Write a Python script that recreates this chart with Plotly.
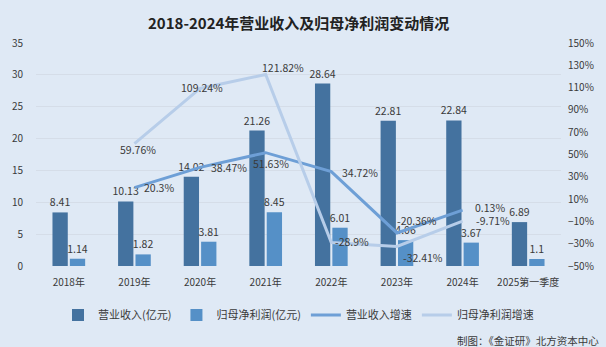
import plotly.graph_objects as go

# Annual figures
categories = ["2018年", "2019年", "2020年", "2021年", "2022年", "2023年", "2024年", "2025第一季度"]
revenue = [8.41, 10.13, 14.02, 21.26, 28.64, 22.81, 22.84, 6.89]
net_profit = [1.14, 1.82, 3.81, 8.45, 6.01, 4.06, 3.67, 1.1]
revenue_growth = [None, 20.3, 38.47, 51.63, 34.72, -20.36, 0.13, None]
profit_growth = [None, 59.76, 109.24, 121.82, -28.9, -32.41, -9.71, None]

BG = "#dfe9f5"
TXT = "#3a3a3a"
FONT = "Noto Sans CJK SC"

# label placement per point: (xanchor, xshift, yshift)
rev_label_pos = [None, ("left", 8, 0), ("left", 9, 0), ("center", 5, -11),
                 ("left", 9, -1), ("left", -2, 12), ("left", 10, 3), None]
profit_label_pos = [None, ("center", 4, -6), ("center", 2, 1), ("left", -6, 7),
                    ("left", 2, 1), ("left", 4, -11), ("left", 11, 1), None]

fig = go.Figure()

fig.add_trace(go.Bar(
    x=categories, y=revenue, name="营业收入(亿元)",
    marker=dict(color="#44729f", line=dict(width=0)),
    text=[f"{v:g}" for v in revenue], textposition="outside", constraintext="none",
    textfont=dict(size=10.5, color=TXT), cliponaxis=False,
))
fig.add_trace(go.Bar(
    x=categories, y=net_profit, name="归母净利润(亿元)",
    marker=dict(color="#5590c7", line=dict(width=0)),
    text=[f"{v:g}" for v in net_profit], textposition="outside", constraintext="none",
    textfont=dict(size=10.5, color=TXT), cliponaxis=False,
))
fig.add_trace(go.Scatter(
    x=categories, y=revenue_growth, name="营业收入增速", yaxis="y2",
    mode="lines", line=dict(color="#6e9fd6", width=3),
))
fig.add_trace(go.Scatter(
    x=categories, y=profit_growth, name="归母净利润增速", yaxis="y2",
    mode="lines", line=dict(color="#b7cde9", width=3),
))

annotations = [
    dict(text="<b>2018-2024年营业收入及归母净利润变动情况</b>", xref="paper", yref="paper",
         x=0.5, y=1.0, yshift=21, xanchor="center", yanchor="middle", showarrow=False,
         font=dict(size=15, color="#222222", family=FONT)),
    dict(text="制图：《金证研》北方资本中心", xref="paper", yref="paper",
         x=1.0, xshift=40, y=0, yshift=-74, xanchor="right", yanchor="middle",
         showarrow=False, font=dict(size=10.5, color=TXT, family=FONT)),
]

for values, positions in ((revenue_growth, rev_label_pos), (profit_growth, profit_label_pos)):
    for cat, v, pos in zip(categories, values, positions):
        if v is None:
            continue
        anchor, dx, dy = pos
        annotations.append(dict(
            text=f"{v:g}%", x=cat, y=v, xref="x", yref="y2", showarrow=False,
            xanchor=anchor, yanchor="middle", xshift=dx, yshift=dy,
            font=dict(size=10.5, color=TXT, family=FONT),
        ))

fig.update_layout(
    width=606, height=347,
    margin=dict(l=23, r=42, t=43, b=81),
    paper_bgcolor=BG, plot_bgcolor=BG,
    font=dict(family=FONT, size=10, color=TXT),
    barmode="group", bargap=0.47, bargroupgap=0.12,
    uniformtext=dict(mode=False),
    showlegend=True,
    legend=dict(orientation="h", x=0.5, xanchor="center", y=-0.22, yanchor="middle",
                font=dict(size=11, color=TXT), bgcolor="rgba(0,0,0,0)",
                itemwidth=30, traceorder="normal"),
    xaxis=dict(showgrid=False, showline=False, ticks="", tickfont=dict(size=10, color=TXT),
               ticklabelstandoff=9),
    yaxis=dict(range=[0, 35], dtick=5, showgrid=True, gridcolor="#d5dde8", gridwidth=1,
               zeroline=False, showline=False, ticks="",
               tickfont=dict(size=10, color=TXT), ticklabelstandoff=12),
    yaxis2=dict(range=[-50, 150], dtick=20, tick0=-50, overlaying="y", side="right",
                showgrid=False, zeroline=False, showline=False, ticks="",
                ticksuffix="%", tickfont=dict(size=10, color=TXT), ticklabelstandoff=6),
    annotations=annotations,
)

fig.write_html("out.html")
